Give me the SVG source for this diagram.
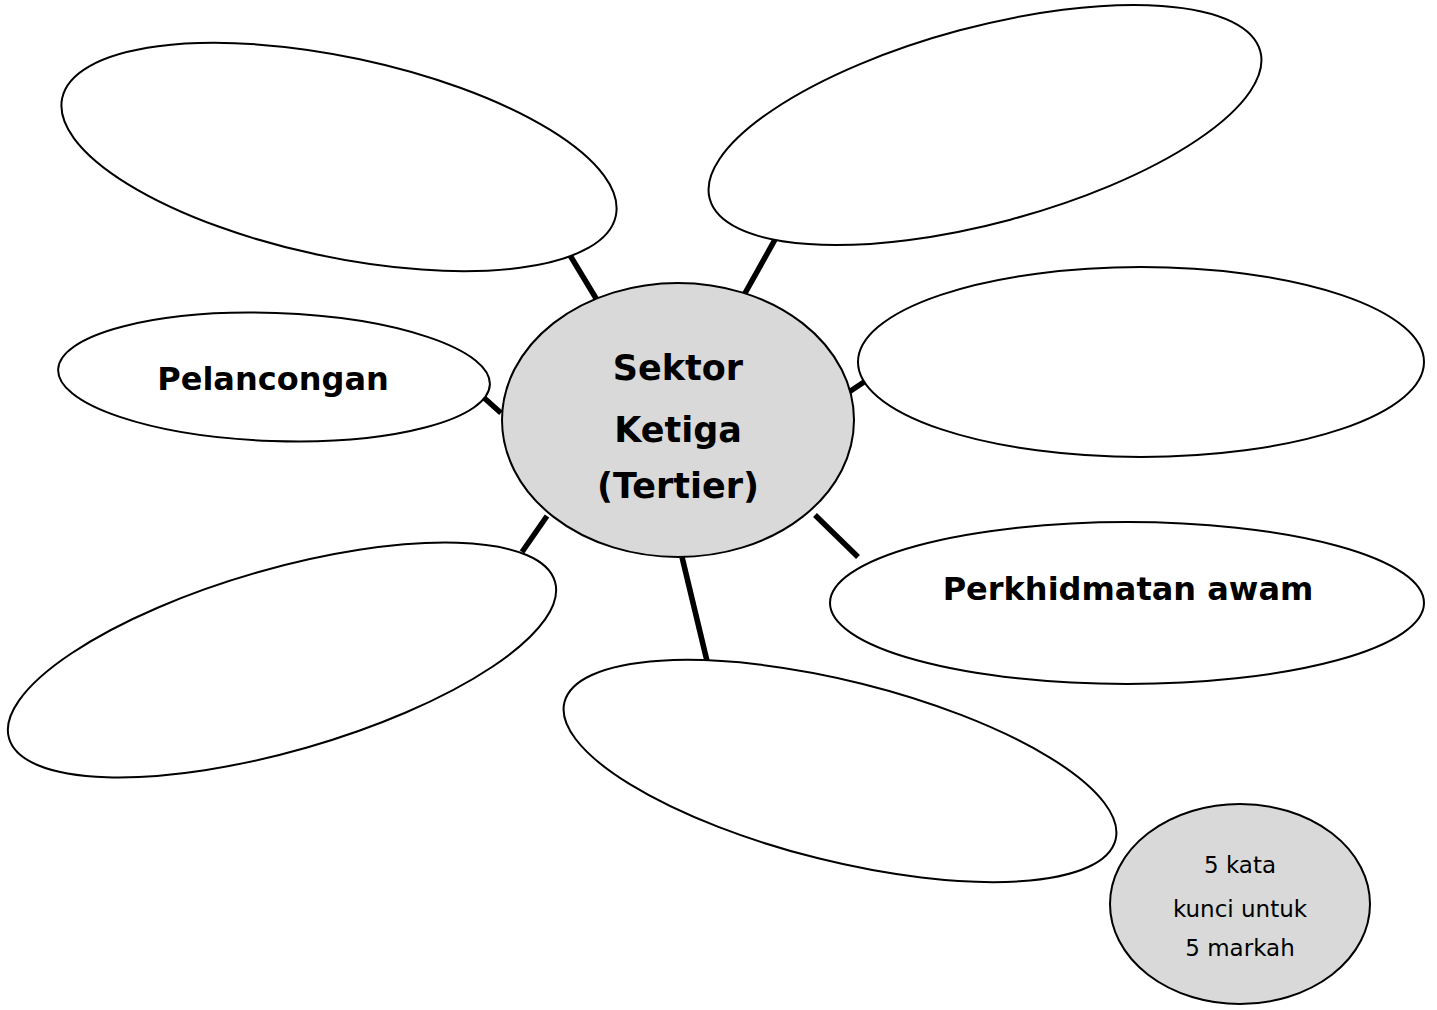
<svg xmlns="http://www.w3.org/2000/svg" width="1437" height="1010" viewBox="0 0 1437 1010">
<style>
.node{fill:#fff;stroke:#000;stroke-width:2}
.hub{fill:#d9d9d9;stroke:#000;stroke-width:2}
.conn line{stroke:#000;stroke-width:5.5}
.big{font-family:"DejaVu Sans",sans-serif;font-weight:bold;fill:#000;text-anchor:middle}
.small{font-family:"DejaVu Sans",sans-serif;font-size:23px;fill:#000;text-anchor:middle}
</style>
<rect width="1437" height="1010" fill="#fff"/>
<g id="connectors" class="conn">
<line x1="565" y1="247" x2="597" y2="300"/>
<line x1="777" y1="236" x2="744" y2="295"/>
<line x1="867" y1="380" x2="849" y2="392"/>
<line x1="482" y1="396" x2="501" y2="413"/>
<line x1="547" y1="516" x2="522" y2="552"/>
<line x1="682" y1="557" x2="707" y2="661"/>
<line x1="815" y1="515" x2="858" y2="557"/>
</g>
<g id="node-topleft"><ellipse class="node" cx="339" cy="157" rx="283" ry="100" transform="rotate(12 339 157)"/></g>
<g id="node-topright"><ellipse class="node" cx="985" cy="125" rx="285" ry="98" transform="rotate(-15 985 125)"/></g>
<g id="node-rightmid"><ellipse class="node" cx="1141" cy="362" rx="283" ry="95"/></g>
<g id="node-pelancongan"><ellipse class="node" cx="274" cy="377" rx="216" ry="64" transform="rotate(2 274 377)"/>
<text class="big" x="273" y="390" font-size="32">Pelancongan</text></g>
<g id="node-perkhidmatan"><ellipse class="node" cx="1127" cy="603" rx="297" ry="81"/>
<text class="big" x="1128" y="600" font-size="32">Perkhidmatan awam</text></g>
<g id="node-bottomleft"><ellipse class="node" cx="282" cy="660" rx="284" ry="91" transform="rotate(-16 282 660)"/></g>
<g id="node-bottom"><ellipse class="node" cx="840" cy="771" rx="284" ry="90" transform="rotate(14 840 771)"/></g>
<g id="node-center"><ellipse class="hub" cx="678" cy="420" rx="176" ry="137"/>
<text class="big" x="678" y="380" font-size="35">Sektor</text>
<text class="big" x="678" y="442" font-size="35">Ketiga</text>
<text class="big" x="678" y="498" font-size="35">(Tertier)</text></g>
<g id="node-note"><ellipse class="hub" cx="1240" cy="904" rx="130" ry="100"/>
<text class="small" x="1240" y="873">5 kata</text>
<text class="small" x="1240" y="917">kunci untuk</text>
<text class="small" x="1240" y="956">5 markah</text></g>
</svg>
